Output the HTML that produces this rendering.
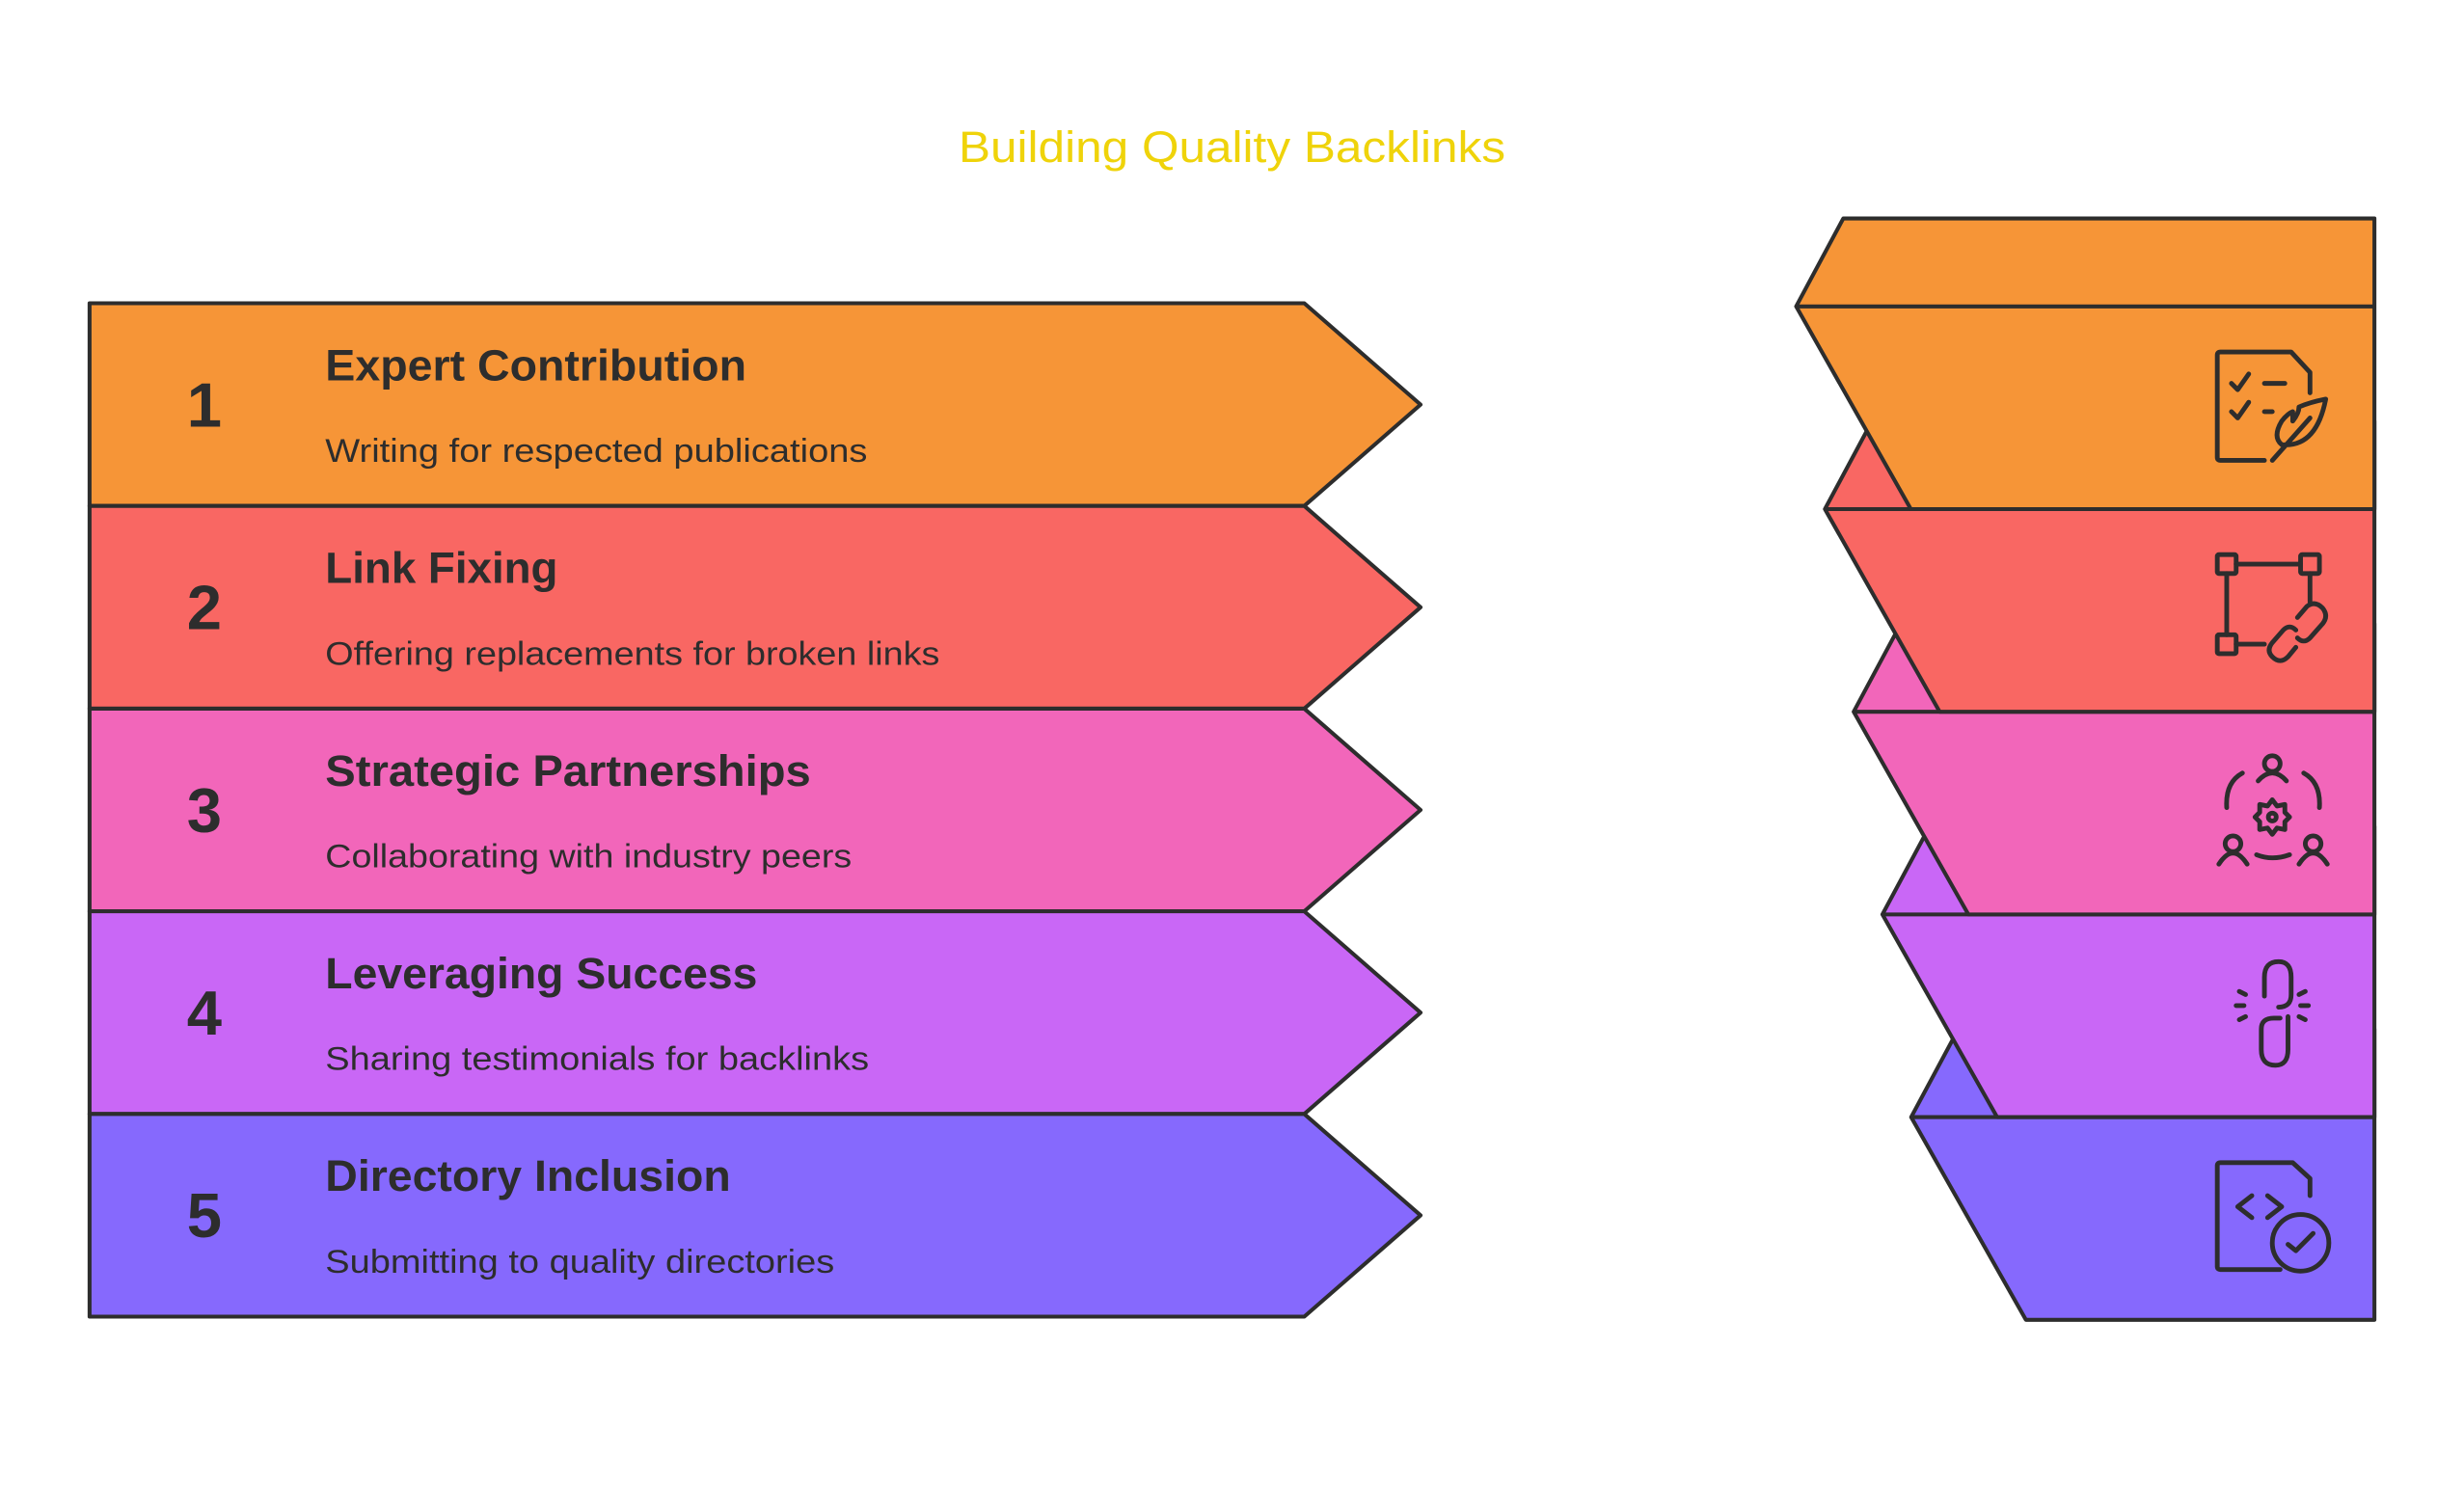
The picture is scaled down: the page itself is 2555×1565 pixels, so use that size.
<!DOCTYPE html>
<html><head><meta charset="utf-8"><style>
html,body{margin:0;padding:0;background:#fff;}
svg{display:block;}
text{font-family:"Liberation Sans",sans-serif;}
</style></head><body>
<svg id="chart" width="2555" height="1565" viewBox="0 0 1568 960.4" xmlns="http://www.w3.org/2000/svg">
<text x="610" y="103" font-size="28" fill="#EFD30A" textLength="348" lengthAdjust="spacingAndGlyphs">Building Quality Backlinks</text>
<g id="left"></g>
<g id="right"></g>
<g id="icons" fill="none" stroke="#2d2d2d" stroke-width="3" stroke-linecap="round" stroke-linejoin="round">
 <g transform="translate(0,0)">
  <path d="M1441 293 H1413 Q1411 293 1411 291 V226 Q1411 224 1413 224 H1458 L1470 237 V250"/>
  <path d="M1420 244 l4 4 l7 -10 M1420 262 l4 4 l7 -10 M1441 244 h13 M1441 262 h5"/>
  <path d="M1446 293 L1470 266 M1452 283 Q1446 278 1452 268 Q1456 263 1459 262 L1459 268 Q1463 263 1463 259 Q1470 256 1480 254 Q1474 285 1452 283"/>
 </g>
 <g>
  <rect x="1411" y="353" width="12" height="12" rx="1"/><rect x="1464" y="353" width="12" height="12" rx="1"/><rect x="1411" y="404" width="12" height="12" rx="1"/>
  <path d="M1423 359 H1464 M1417 365 V404 M1423 410 H1441 M1470 365 V383"/>
  <path d="M1462 393 l6 -7 q5 -4 10 1 q4 5 0 10 l-8 9 q-4 4 -8 0 M1461 401 q-4 -4 -8 0 l-7 8 q-4 5 0 9 q5 5 10 0 l5 -6"/>
 </g>
 <g>
  <circle cx="1446" cy="486" r="5"/><path d="M1437 497 q9 -10 18 0"/>
  <circle cx="1421" cy="537" r="5"/><path d="M1412 550 q9 -14 18 0"/>
  <circle cx="1472" cy="537" r="5"/><path d="M1463 550 q9 -14 18 0"/>
  <path d="M1427 492 q-11 6 -10 22 M1466 492 q11 6 10 22 M1436 544 q10 4 21 0"/>
  <circle cx="1446" cy="520" r="2.5"/>
  <path d="M1446 509 l3 4 l5 -1 l0 5 l3 3 l-3 3 l0 5 l-5 -1 l-3 4 l-3 -4 l-5 1 l0 -5 l-3 -3 l3 -3 l0 -5 l5 1 z"/>
 </g>
 <g>
  <path d="M1441 634 V622 q0 -10 9 -10 q8 0 8 10 V633 q0 8 -8 8 M1456 647 V668 q0 10 -8 10 q-9 0 -9 -10 V655 q0 -7 8 -7 h4"/>
  <path d="M1425 631 l4 2 M1423 640 h5 M1425 649 l4 -2 M1467 631 l-4 2 M1469 640 h-5 M1467 649 l-4 -2"/>
 </g>
 <g>
  <path d="M1451 808 H1413 Q1411 808 1411 806 V742 Q1411 740 1413 740 H1459 L1470 750 V761"/>
  <path d="M1433 761 l-9 7 l9 7 M1443 761 l9 7 l-9 7"/>
  <ellipse cx="1464" cy="791" rx="18" ry="18"/><path d="M1456 792 l5 4 l11 -11"/>
 </g>
</g>
</svg>
<script>
const stepNumbers = ["1","2","3","4","5"];
const stepTitles = ["Expert Contribution","Link Fixing","Strategic Partnerships","Leveraging Success","Directory Inclusion"];
const stepDescriptions = ["Writing for respected publications","Offering replacements for broken links","Collaborating with industry peers","Sharing testimonials for backlinks","Submitting to quality directories"];
const stepColors = ["#F69537","#F96763","#F266BA","#C967F6","#8669FD"];
const titleWidths = [268,148,309,275,258];
const descWidths = [345,391,335,346,324];

const NS = "http://www.w3.org/2000/svg";
const left = document.getElementById('left');
const right = document.getElementById('right');
const top0 = 193, rowH = 129, x0 = 57, x1 = 830, xTip = 904;
const rx = 1511, apex0 = 1143, apexStep = 18.3, slopeTop = 30, slopeBot = 73, topH = 56;
function mk(tag, attrs, parent){const e=document.createElementNS(NS,tag);for(const k in attrs)e.setAttribute(k,attrs[k]);parent.appendChild(e);return e;}

for (let i = 0; i < stepTitles.length; i++) {
  const y = top0 + i*rowH, yb = y + rowH, ym = y + rowH/2;
  const g = mk('g', {}, left);
  
  
  const p = mk('polygon', {points:`${x0},${y} ${x1},${y} ${xTip},${ym} ${x1},${yb} ${x0},${yb}`, fill:stepColors[i], stroke:'#2d2d2d','stroke-width':2.5,'stroke-linejoin':'round'}, g);
  
  
  const n = mk('text', {x:130, y:ym+14, 'font-size':40, 'font-weight':'bold', fill:'#2d2d2d', 'text-anchor':'middle'}, g);
  n.textContent = stepNumbers[i];
  
  
  const t = mk('text', {x:207, y:y+49, 'font-size':28, 'font-weight':'bold', fill:'#2d2d2d', textLength:titleWidths[i], lengthAdjust:'spacingAndGlyphs'}, g);
  t.textContent = stepTitles[i];
  
  
  const d = mk('text', {x:207, y:y+101, 'font-size':21, fill:'#2d2d2d', textLength:descWidths[i], lengthAdjust:'spacingAndGlyphs'}, g);
  d.textContent = stepDescriptions[i];
  
  
}
// right stacked blocks: draw bottom first
for (let i = stepTitles.length - 1; i >= 0; i--) {
  const y = 195 + i*rowH, ax = apex0 + apexStep*i;
  const s = mk('polygon', {points:`${ax+slopeTop},${y-topH} ${rx},${y-topH} ${rx},${y+rowH} ${ax+slopeBot},${y+rowH} ${ax},${y}`, fill:stepColors[i], stroke:'#2d2d2d','stroke-width':2.5,'stroke-linejoin':'round'}, right);
  
  
  const l = mk('line', {x1:ax, y1:y, x2:rx, y2:y, stroke:'#2d2d2d','stroke-width':2.5}, right);
  
  
}
</script>
</body></html>
